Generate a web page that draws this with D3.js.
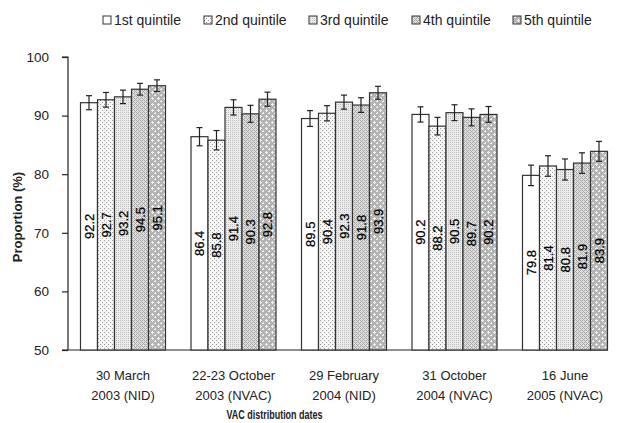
<!DOCTYPE html>
<html>
<head>
<meta charset="utf-8">
<script src="https://cdn.jsdelivr.net/npm/d3@7"></script>
<style>
  html, body { margin: 0; padding: 0; background: #fff; }
  svg { display: block; font-family: "Liberation Sans", Arial, Helvetica, sans-serif; }
</style>
</head>
<body>
<svg id="chart" width="618" height="423"></svg>
<script>
// Distribution rounds (two-line labels)
const categories = [
  ["30 March", "2003 (NID)"],
  ["22-23 October", "2003 (NVAC)"],
  ["29 February", "2004 (NID)"],
  ["31 October", "2004 (NVAC)"],
  ["16 June", "2005 (NVAC)"]
];
const quintiles = ["1st quintile", "2nd quintile", "3rd quintile", "4th quintile", "5th quintile"];

// Proportion (%) by wealth quintile, one array per quintile
const q1 = [92.2, 86.4, 89.5, 90.2, 79.8];
const q2 = [92.7, 85.8, 90.4, 88.2, 81.4];
const q3 = [93.2, 91.4, 92.3, 90.5, 80.8];
const q4 = [94.5, 90.3, 91.8, 89.7, 81.9];
const q5 = [95.1, 92.8, 93.9, 90.2, 83.9];

// Half-width of the 95% confidence interval
const e1 = [1.2, 1.55, 1.35, 1.3, 1.75];
const e2 = [1.25, 1.65, 1.3, 1.5, 1.75];
const e3 = [1.15, 1.3, 1.2, 1.35, 1.8];
const e4 = [1.0, 1.45, 1.25, 1.45, 1.75];
const e5 = [1.0, 1.2, 1.1, 1.35, 1.7];

const yTicks = [50, 60, 70, 80, 90, 100];
const yTitle = "Proportion (%)";
const xTitle = "VAC distribution dates";

const values = [q1, q2, q3, q4, q5];
const errors = [e1, e2, e3, e4, e5];

const rows = [];
categories.forEach((c, gi) => {
  quintiles.forEach((q, qi) => {
    rows.push({ group: gi, q: qi, value: values[qi][gi], err: errors[qi][gi] });
  });
});

const svg = d3.select("#chart");
const ink = "#222";

// ---- fill patterns for the quintiles ----
const defs = svg.append("defs");
function pat(id, size, bg, pixels, color) {
  const p = defs.append("pattern").attr("id", id)
    .attr("patternUnits", "userSpaceOnUse").attr("width", size).attr("height", size);
  p.append("rect").attr("width", size).attr("height", size).attr("fill", bg);
  pixels.forEach(([x, y]) => p.append("rect").attr("x", x).attr("y", y)
    .attr("width", 1).attr("height", 1).attr("fill", color));
}
pat("p0", 4, "#ffffff", [], "#fff");
pat("p1", 4, "#f6f6f6", [[0, 0], [2, 2]], "#9a9a9a");
pat("p2", 2, "#ececec", [[0, 0]], "#bdbdbd");
pat("p3", 4, "#dedede", [[0, 0], [2, 0], [1, 1], [0, 2], [2, 2], [3, 3]], "#a8a8a8");
pat("p4", 6, "#b4b4b4", [[2, 1], [1, 2], [2, 2], [3, 2], [2, 3], [5, 4], [4, 5], [5, 5]], "#f0f0f0");
const fills = ["url(#p0)", "url(#p1)", "url(#p2)", "url(#p3)", "url(#p4)"];

// ---- scales ----
const y = d3.scaleLinear().domain([50, 100]).range([350, 57]);
const x0 = d3.scaleBand().domain(d3.range(categories.length))
  .range([80.5, 607.5]).paddingInner(25.5 / 110.5).paddingOuter(0);
const x1 = d3.scaleBand().domain(d3.range(quintiles.length))
  .range([0, x0.bandwidth()]).padding(0);

// ---- y axis ----
const yAxis = d3.axisLeft(y).tickValues(yTicks).tickSize(6).tickPadding(13).tickFormat(d3.format("d"));
const ya = svg.append("g").attr("transform", "translate(68,0)").call(yAxis);
ya.select(".domain").attr("stroke", ink).attr("stroke-width", 1.2).attr("d", `M-6,${y(100)}H0V${y(50)}`);
ya.selectAll(".tick line").attr("stroke", ink).attr("stroke-width", 1.2);
ya.selectAll(".tick text").attr("fill", ink).attr("font-size", 13.5)
  .attr("font-family", "Liberation Sans, Arial, sans-serif");

// baseline
svg.append("line").attr("x1", 62).attr("x2", 608).attr("y1", y(50)).attr("y2", y(50))
  .attr("stroke", ink).attr("stroke-width", 1.2);

// ---- bars ----
const bars = svg.append("g");
bars.selectAll("rect").data(rows).join("rect")
  .attr("x", d => x0(d.group) + x1(d.q))
  .attr("y", d => y(d.value))
  .attr("width", x1.bandwidth())
  .attr("height", d => y(50) - y(d.value))
  .attr("fill", d => fills[d.q])
  .attr("stroke", "#333").attr("stroke-width", 1.2);

// ---- error bars ----
const eb = svg.append("g").attr("stroke", ink).attr("stroke-width", 1.2);
rows.forEach(d => {
  const cx = x0(d.group) + x1(d.q) + x1.bandwidth() / 2;
  const top = y(d.value + d.err), bot = y(d.value - d.err);
  eb.append("line").attr("x1", cx).attr("x2", cx).attr("y1", top).attr("y2", bot);
  eb.append("line").attr("x1", cx - 3).attr("x2", cx + 3).attr("y1", top).attr("y2", top);
  eb.append("line").attr("x1", cx - 3).attr("x2", cx + 3).attr("y1", bot).attr("y2", bot);
});

// ---- value labels, rotated, centred in each bar ----
svg.append("g").selectAll("text").data(rows).join("text")
  .attr("transform", d => {
    const cx = x0(d.group) + x1(d.q) + x1.bandwidth() / 2;
    const cy = (y(d.value) + y(50)) / 2;
    return `translate(${cx},${cy}) rotate(-90)`;
  })
  .attr("text-anchor", "middle").attr("dy", "0.36em")
  .attr("font-size", 13).attr("fill", "#000")
  .attr("stroke", "#000").attr("stroke-width", 0.25)
  .text(d => d.value.toFixed(1));

// ---- category labels ----
const cat = svg.append("g");
categories.forEach((c, i) => {
  const cx = x0(i) + x0.bandwidth() / 2;
  const t = cat.append("text").attr("x", cx).attr("y", 380).attr("text-anchor", "middle")
    .attr("font-size", 13).attr("fill", ink);
  t.append("tspan").attr("x", cx).text(c[0]);
  t.append("tspan").attr("x", cx).attr("dy", 19.5).text(c[1]);
});

// ---- axis titles ----
svg.append("text").attr("x", 274.5).attr("y", 419).attr("text-anchor", "middle")
  .attr("font-size", 12.5).attr("font-weight", "bold").attr("fill", ink)
  .attr("textLength", 96).attr("lengthAdjust", "spacingAndGlyphs")
  .text(xTitle);
svg.append("text").attr("transform", "translate(22,217) rotate(-90)").attr("text-anchor", "middle")
  .attr("font-size", 13).attr("font-weight", "bold").attr("fill", ink).text(yTitle);

// ---- legend ----
const legX = [103, 204, 309, 412, 513];
const leg = svg.append("g");
quintiles.forEach((q, i) => {
  leg.append("rect").attr("x", legX[i]).attr("y", 16).attr("width", 8).attr("height", 8)
    .attr("fill", fills[i]).attr("stroke", "#333").attr("stroke-width", 1);
  leg.append("text").attr("x", legX[i] + 11).attr("y", 25).attr("font-size", 14)
    .attr("fill", ink).text(q);
});
</script>
</body>
</html>
